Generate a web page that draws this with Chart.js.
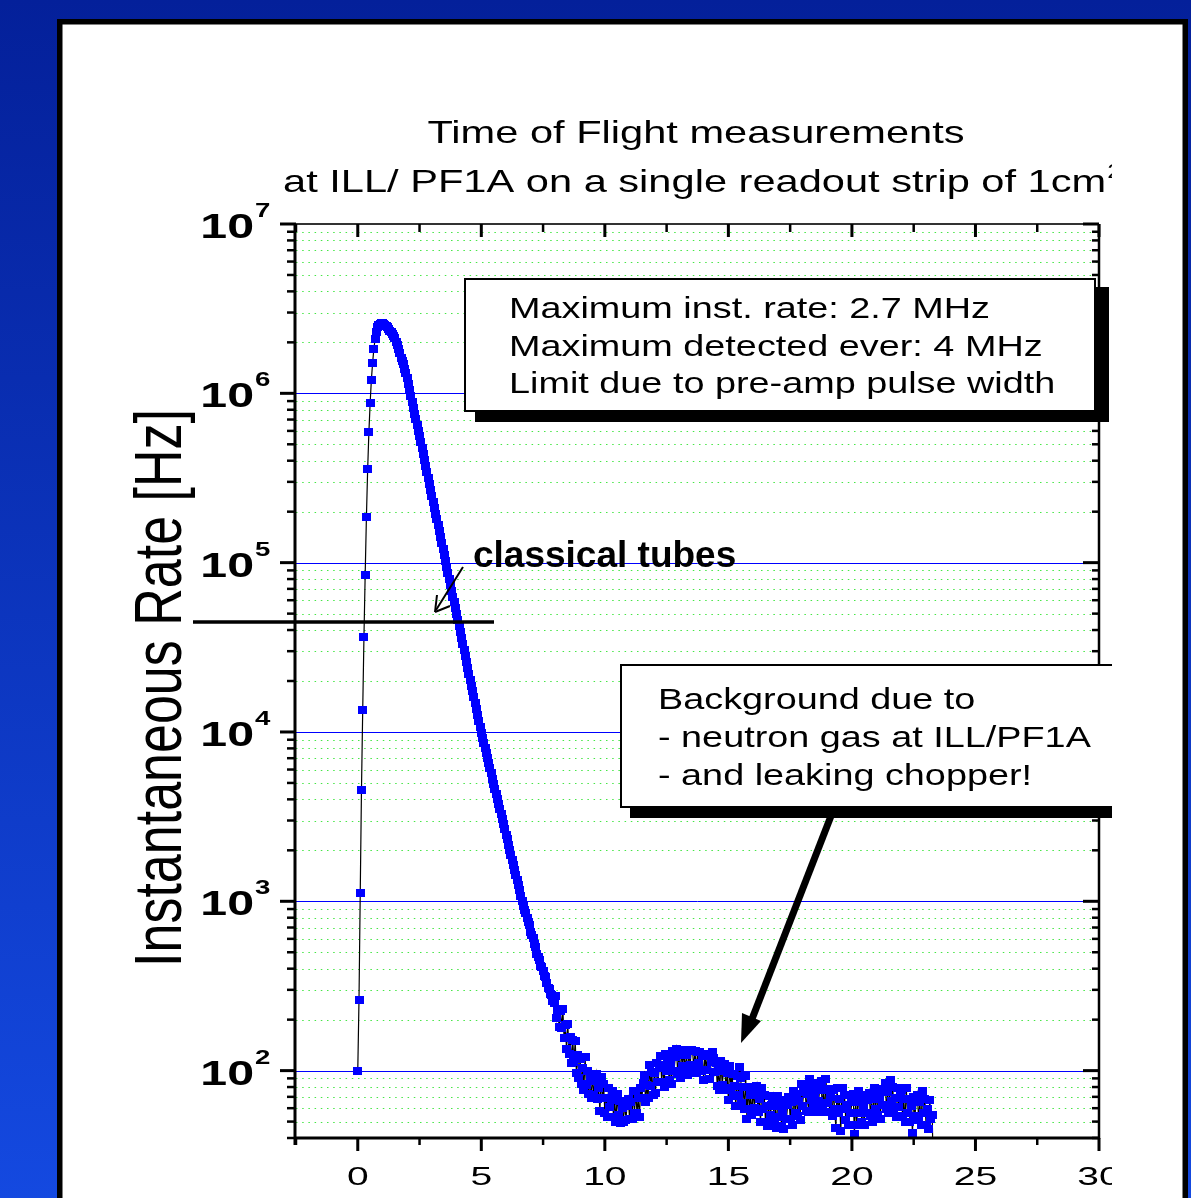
<!DOCTYPE html>
<html>
<head>
<meta charset="utf-8">
<script src="https://cdn.jsdelivr.net/npm/chart.js@4.4.0/dist/chart.umd.min.js"></script>
<style>
  html, body { margin: 0; padding: 0; overflow: hidden; background: #0a2aa8; }
  canvas { display: block; }
</style>
</head>
<body>
<canvas id="tofChart" width="1191" height="1198"></canvas>
<script>
// sampling step of the time of flight spectrum (ms)
const timeStep = 0.05;

// instantaneous rate per sample (Hz)
const rateHz = [
  100, 263, 1120, 4570, 13500, 36300, 85100, 186000, 355000, 589000,
  871000, 1200000, 1510000, 1820000, 2090000, 2290000, 2450000, 2540000, 2570000, 2600000,
  2600000, 2570000, 2540000, 2510000, 2450000, 2400000, 2340000, 2290000, 2240000, 2190000,
  2110000, 2020000, 1930000, 1820000, 1720000, 1620000, 1550000, 1480000, 1400000, 1320000,
  1230000, 1140000, 1050000, 966000, 891000, 822000, 759000, 708000, 653000, 603000,
  556000, 513000, 473000, 437000, 403000, 372000, 343000, 316000, 292000, 269000,
  248000, 229000, 211000, 195000, 180000, 166000, 153000, 141000, 130000, 120000,
  111000, 102000, 94400, 87100, 80400, 74100, 68400, 63100, 58200, 53700,
  49500, 45700, 42200, 38900, 35900, 33100, 30500, 28200, 26000, 24000,
  22100, 20400, 18800, 17400, 16000, 14800, 13600, 12600, 11600, 10700,
  9890, 9230, 8610, 8040, 7500, 7000, 6530, 6100, 5690, 5310,
  4950, 4620, 4320, 4030, 3760, 3510, 3270, 3050, 2850, 2660,
  2480, 2320, 2160, 2020, 1880, 1760, 1640, 1530, 1430, 1330,
  1240, 1160, 1080, 1010, 944, 891, 851, 794, 750, 724,
  661, 631, 603, 556, 537, 490, 468, 452, 417, 407,
  385, 363, 355, 331, 309, 305, 282, 279, 257, 251,
  276, 204, 227, 181, 224, 178, 230, 155, 185, 134,
  189, 126, 157, 111, 152, 113, 149, 97, 124, 91,
  117, 83, 104, 77, 121, 82, 99, 73, 90, 69,
  93, 72, 87, 96, 68, 79, 58, 92, 69, 83,
  56, 69, 53, 79, 61, 68, 76, 53, 67, 50,
  73, 55, 66, 49, 60, 50, 66, 51, 62, 68,
  52, 65, 52, 76, 56, 76, 56, 69, 53, 79,
  69, 84, 93, 65, 82, 69, 108, 81, 98, 72,
  97, 74, 111, 86, 103, 122, 86, 108, 80, 126,
  99, 120, 88, 108, 83, 130, 100, 121, 134, 95,
  123, 91, 132, 107, 130, 100, 123, 94, 133, 108,
  133, 131, 104, 131, 97, 129, 111, 128, 99, 122,
  88, 126, 101, 122, 125, 89, 112, 129, 118, 98,
  111, 81, 100, 77, 114, 82, 99, 110, 77, 97,
  67, 106, 79, 96, 71, 81, 62, 93, 72, 105,
  90, 64, 80, 59, 93, 52, 80, 59, 72, 55,
  78, 60, 73, 81, 57, 68, 50, 79, 59, 72,
  50, 62, 47, 71, 55, 63, 70, 49, 62, 46,
  71, 53, 64, 47, 58, 45, 67, 52, 63, 70,
  52, 65, 48, 76, 56, 73, 54, 66, 51, 83,
  62, 75, 83, 58, 73, 57, 89, 67, 81, 60,
  74, 57, 85, 66, 79, 87, 61, 77, 57, 89,
  64, 78, 57, 70, 54, 77, 59, 46, 79, 56,
  68, 44, 79, 59, 72, 51, 63, 48, 72, 56,
  66, 73, 42, 65, 48, 76, 56, 68, 50, 62,
  48, 72, 56, 67, 74, 54, 68, 50, 79, 59,
  75, 55, 68, 52, 78, 63, 76, 84, 59, 75,
  56, 88, 66, 80, 59, 69, 53, 79, 61, 74,
  77, 54, 68, 50, 79, 56, 68, 50, 62, 43,
  70, 54, 65, 72, 51, 65, 48, 76, 56, 68,
  48, 59, 45, 67, 52, 55, 20
];

const xMajorTicks = [0, 5, 10, 15, 20, 25, 30];
const xMinorTicks = [-2.5, 2.5, 7.5, 12.5, 17.5, 22.5, 27.5];
const xTickLabels = ['0', '5', '10', '15', '20', '25', '30'];
const yDecades = [2, 3, 4, 5, 6, 7];
const yMin = 40, yMax = 1e7;
const xMin = -2.5, xMax = 30;

const titleLines = ['Time of Flight measurements', 'at ILL/ PF1A on a single readout strip of 1cm'];
const yTitle = 'Instantaneous Rate [Hz]';
const maxRateNote = ['Maximum inst. rate: 2.7 MHz', 'Maximum detected ever: 4 MHz', 'Limit due to pre-amp pulse width'];
const backgroundNote = ['Background due to', '- neutron gas at ILL/PF1A', '- and leaking chopper!'];
const tubesLabel = 'classical tubes';

const points = rateHz.map((v, i) => ({ x: i * timeStep, y: v }));

// blue square marker, a bit wider than tall like the original
const marker = document.createElement('canvas');
marker.width = 9;
marker.height = 8;
const mctx = marker.getContext('2d');
mctx.fillStyle = '#0000ff';
mctx.fillRect(0, 0, 9, 8);

const FONT = '"Liberation Sans", Arial, sans-serif';

function stretchText(ctx, text, x, y, font, align, sx) {
    ctx.save();
    ctx.font = font;
    ctx.textAlign = align;
    ctx.textBaseline = 'alphabetic';
    ctx.translate(x, y);
    ctx.scale(sx, 1);
    ctx.fillText(text, 0, 0);
    ctx.restore();
}

function seg(ctx, x1, y1, x2, y2) {
    ctx.beginPath();
    ctx.moveTo(x1, y1);
    ctx.lineTo(x2, y2);
    ctx.stroke();
}

function minorValues() {
    const vals = [];
    for (let e = 1; e <= 6; e++) {
        for (let m = 2; m <= 9; m++) {
            const v = m * Math.pow(10, e);
            if (v >= yMin && v < yMax) vals.push(v);
        }
    }
    return vals;
}

const decorPlugin = {
    id: 'decor',
    beforeDraw(chart) {
        const ctx = chart.ctx;
        ctx.save();
        const g = ctx.createLinearGradient(0, 0, 0, chart.height);
        g.addColorStop(0, '#04209a');
        g.addColorStop(1, '#1449e0');
        ctx.fillStyle = g;
        ctx.fillRect(0, 0, chart.width, chart.height);
        ctx.fillStyle = '#ffffff';
        ctx.fillRect(57, 19, 1131, 1200);
        ctx.strokeStyle = '#000000';
        ctx.lineWidth = 5.5;
        ctx.strokeRect(59.75, 21.75, 1125.5, 1200);
        ctx.restore();
    },
    beforeDatasetsDraw(chart) {
        const ctx = chart.ctx;
        const { left, right } = chart.chartArea;
        const ys = chart.scales.y;
        ctx.save();
        // minor grid: green dots
        ctx.strokeStyle = 'rgb(70,230,70)';
        ctx.lineWidth = 1;
        ctx.setLineDash([1.5, 4.7]);
        minorValues().forEach(v => {
            if (v <= yMin) return;
            const py = Math.round(ys.getPixelForValue(v)) + 0.5;
            seg(ctx, left, py, right, py);
        });
        // major grid: thin blue
        ctx.setLineDash([]);
        ctx.strokeStyle = '#0000ff';
        yDecades.forEach(e => {
            if (e >= 7) return;
            const py = Math.round(ys.getPixelForValue(Math.pow(10, e))) + 0.5;
            seg(ctx, left, py, right, py);
        });
        ctx.restore();
    },
    afterDatasetsDraw(chart) {
        const ctx = chart.ctx;
        const { left, right, top, bottom } = chart.chartArea;
        const xs = chart.scales.x;
        const ys = chart.scales.y;
        ctx.save();
        ctx.strokeStyle = '#000';
        ctx.fillStyle = '#000';

        // axis frame
        ctx.lineWidth = 3;
        seg(ctx, left - 1, top, left - 1, bottom + 7);
        seg(ctx, left - 2, bottom, right + 1, bottom);
        ctx.lineWidth = 2.5;
        seg(ctx, right, top, right, bottom + 1);
        ctx.strokeStyle = '#333';
        ctx.lineWidth = 2;
        seg(ctx, left, top, right, top);
        ctx.strokeStyle = '#000';

        // y ticks, outward on the left, inward on the right
        ctx.lineWidth = 3;
        yDecades.forEach(e => {
            const py = ys.getPixelForValue(Math.pow(10, e));
            seg(ctx, left - 16, py, left, py);
            seg(ctx, right - 16, py, right, py);
        });
        ctx.lineWidth = 2.5;
        minorValues().forEach(v => {
            const py = ys.getPixelForValue(v);
            seg(ctx, left - 9, py, left, py);
            seg(ctx, right - 7, py, right, py);
        });

        // x ticks, inward on top, outward at the bottom
        ctx.lineWidth = 3;
        xMajorTicks.forEach(t => {
            const px = xs.getPixelForValue(t);
            seg(ctx, px, top, px, top + 13);
            seg(ctx, px, bottom, px, bottom + 13);
        });
        ctx.lineWidth = 2.5;
        xMinorTicks.forEach(t => {
            const px = xs.getPixelForValue(t);
            seg(ctx, px, top, px, top + 8);
            seg(ctx, px, bottom, px, bottom + 7);
        });

        // y tick labels 10^n
        yDecades.forEach(e => {
            const py = ys.getPixelForValue(Math.pow(10, e));
            stretchText(ctx, '10', 254, py + 14, 'bold 35px ' + FONT, 'right', 1.38);
            stretchText(ctx, String(e), 255, py - 7, 'bold 20px ' + FONT, 'left', 1.38);
        });

        // y axis title
        ctx.save();
        ctx.font = '52px ' + FONT;
        ctx.textAlign = 'center';
        ctx.textBaseline = 'alphabetic';
        ctx.translate(181, 688);
        ctx.scale(1.27, 1);
        ctx.rotate(-Math.PI / 2);
        ctx.fillText(yTitle, 0, 0);
        ctx.restore();

        // "classical tubes" marker line and label
        ctx.lineWidth = 3.5;
        seg(ctx, 193, 622, 494, 622);
        ctx.lineWidth = 2;
        seg(ctx, 463, 567, 436, 610);
        seg(ctx, 435, 612, 437, 595);
        seg(ctx, 435, 612, 450, 606);
        ctx.font = 'bold 37px ' + FONT;
        ctx.textAlign = 'left';
        ctx.fillText(tubesLabel, 473, 567);

        // everything of the pasted picture is cropped at its right edge
        ctx.save();
        ctx.beginPath();
        ctx.rect(0, 0, 1112, chart.height);
        ctx.clip();

        // x tick labels
        xMajorTicks.forEach((t, i) => {
            stretchText(ctx, xTickLabels[i], xs.getPixelForValue(t), 1185, '26px ' + FONT, 'center', 1.5);
        });

        // title
        stretchText(ctx, titleLines[0], 696, 143, '32px ' + FONT, 'center', 1.3);
        stretchText(ctx, titleLines[1], 283, 192, '32px ' + FONT, 'left', 1.3);
        ctx.font = '32px ' + FONT;
        const w2 = ctx.measureText(titleLines[1]).width * 1.3;
        stretchText(ctx, '2', 283 + w2 + 1, 178, '20px ' + FONT, 'left', 1.3);

        // box 1 with shadow
        ctx.fillStyle = '#000';
        ctx.fillRect(475, 287, 634, 135);
        ctx.fillStyle = '#fff';
        ctx.fillRect(464, 278, 632, 134);
        ctx.lineWidth = 2;
        ctx.strokeRect(465, 279, 630, 132);
        ctx.fillStyle = '#000';
        maxRateNote.forEach((s, i) => {
            stretchText(ctx, s, 509, 318 + i * 37.5, '30px ' + FONT, 'left', 1.26);
        });

        // box 2 with shadow
        ctx.fillRect(630, 674, 520, 144);
        ctx.fillStyle = '#fff';
        ctx.fillRect(620, 664, 520, 144);
        ctx.strokeRect(621, 665, 520, 142);
        ctx.fillStyle = '#000';
        backgroundNote.forEach((s, i) => {
            stretchText(ctx, s, 658, 709 + i * 38, '30px ' + FONT, 'left', 1.26);
        });

        // big arrow to the background
        ctx.lineWidth = 7;
        seg(ctx, 831, 816, 752, 1019);
        ctx.beginPath();
        ctx.moveTo(741, 1043);
        ctx.lineTo(761, 1021);
        ctx.lineTo(742, 1013);
        ctx.closePath();
        ctx.fill();

        ctx.restore();
        ctx.restore();
    }
};

new Chart(document.getElementById('tofChart').getContext('2d'), {
    type: 'line',
    data: {
        datasets: [{
            data: points,
            borderColor: '#000000',
            borderWidth: 1.2,
            pointStyle: marker,
            pointRadius: 4,
            pointBackgroundColor: '#0000ff',
            pointBorderWidth: 0,
            tension: 0,
            fill: false
        }]
    },
    options: {
        responsive: false,
        animation: false,
        events: [],
        layout: { padding: { left: 296, right: 92, top: 224, bottom: 60 } },
        plugins: {
            legend: { display: false },
            tooltip: { enabled: false }
        },
        scales: {
            x: { type: 'linear', min: xMin, max: xMax, display: false },
            y: { type: 'logarithmic', min: yMin, max: yMax, display: false }
        }
    },
    plugins: [decorPlugin]
});
</script>
</body>
</html>
